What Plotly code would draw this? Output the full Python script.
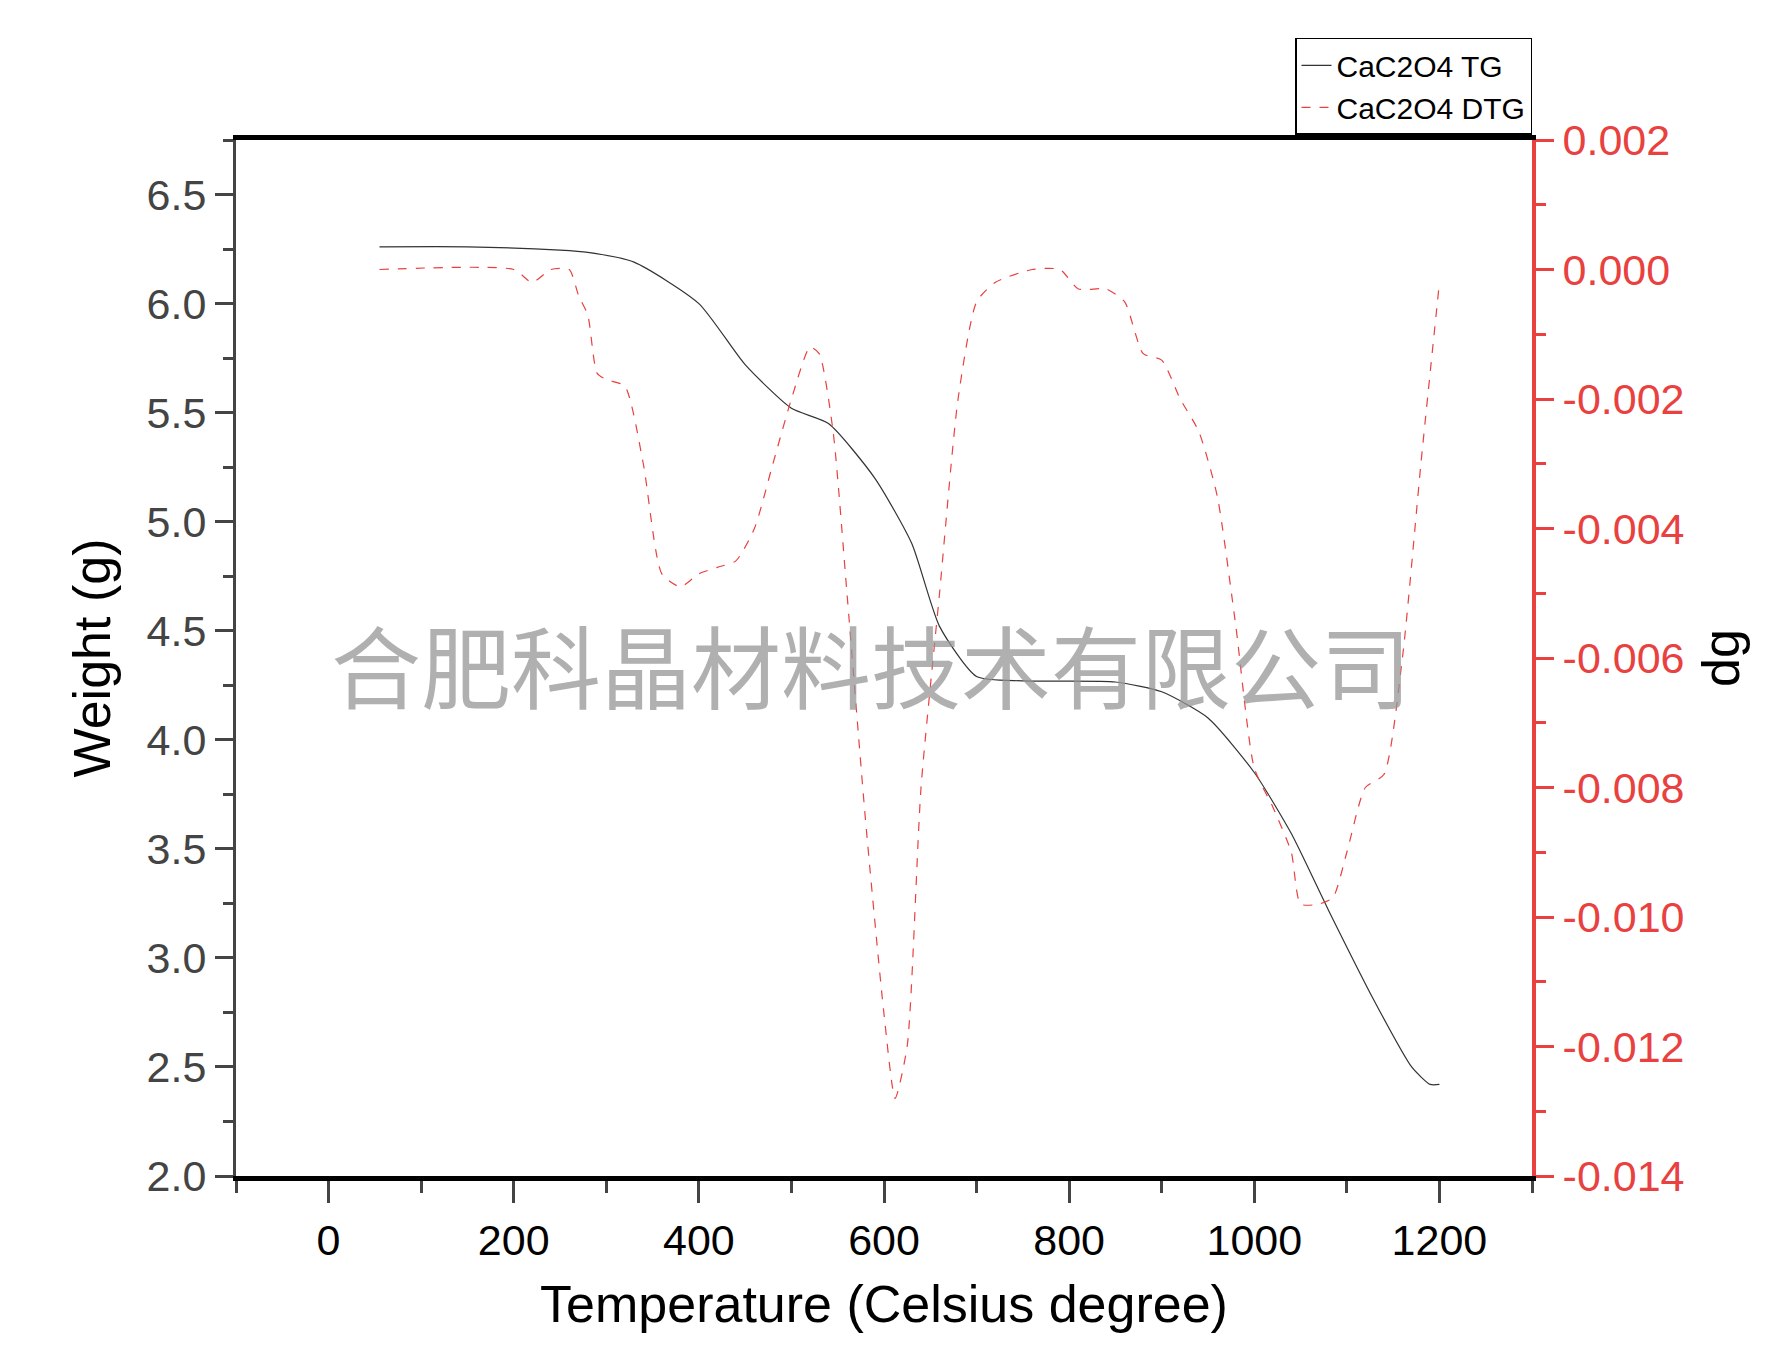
import plotly.graph_objects as go

tg_temp = [55, 150, 250, 280, 330, 400, 450, 500, 540, 590, 630, 660, 700, 750, 850, 900, 950,
           1000, 1040, 1080, 1130, 1170, 1190, 1200]
tg_weight = [6.26, 6.26, 6.245, 6.235, 6.19, 6.0, 5.72, 5.52, 5.45, 5.2, 4.9, 4.52, 4.29, 4.27,
             4.265, 4.22, 4.1, 3.85, 3.57, 3.22, 2.8, 2.5, 2.42, 2.42]

dtg_temp = [55, 200, 220, 240, 260, 270, 280, 290, 300, 320, 340, 360, 380, 400, 420, 440, 460,
            480, 500, 520, 530, 545, 560, 580, 600, 612, 625, 640, 660, 680, 700, 720, 760, 790,
            810, 840, 860, 880, 900, 920, 940, 960, 980, 1000, 1020, 1040, 1050, 1070, 1085,
            1100, 1120, 1140, 1160, 1180, 1200]
dtg_value = [0, 0, -0.0002, 0, 0, -0.0004, -0.0007, -0.0016, -0.0017, -0.0018, -0.003, -0.0047,
             -0.0049, -0.0047, -0.0046, -0.0045, -0.004, -0.003, -0.002, -0.0012, -0.0013,
             -0.0025, -0.005, -0.0085, -0.0115, -0.0128, -0.012, -0.008, -0.005, -0.002, -0.0005,
             -0.0002, 0, 0, -0.0003, -0.0003, -0.0005, -0.0013, -0.0014, -0.002, -0.0025,
             -0.0035, -0.0055, -0.0077, -0.0083, -0.009, -0.0098, -0.0098, -0.0097, -0.009,
             -0.008, -0.0078, -0.006, -0.003, -0.0002]

dg_ticks = [0.002, 0.0, -0.002, -0.004, -0.006, -0.008, -0.010, -0.012, -0.014]
dg_labels = ["0.002", "0.000", "-0.002", "-0.004", "-0.006", "-0.008", "-0.010", "-0.012", "-0.014"]

red = "#e8413f"
font = "Liberation Sans, Arial, sans-serif"

fig = go.Figure()
fig.add_trace(go.Scatter(x=tg_temp, y=tg_weight, mode="lines", name="CaC2O4 TG",
                         line=dict(color="#333333", width=1.2, shape="spline", smoothing=0.6)))
fig.add_trace(go.Scatter(x=dtg_temp, y=dtg_value, mode="lines", name="CaC2O4 DTG", yaxis="y2",
                         line=dict(color=red, width=1.2, dash="dash", shape="spline",
                                   smoothing=0.6)))

fig.update_layout(
    width=1782, height=1362, plot_bgcolor="white", paper_bgcolor="white",
    font=dict(family=font, size=43, color="black"),
    margin=dict(l=228, r=258, t=132, b=194),
    xaxis=dict(range=[-100, 1300], dtick=200, ticks="outside", ticklen=22, tickwidth=3,
               linecolor="black", linewidth=5, showgrid=False, zeroline=False, mirror=True,
               minor=dict(dtick=100, ticks="outside", ticklen=12, tickwidth=3),
               title=dict(text="Temperature (Celsius degree)", font=dict(size=52), standoff=25)),
    yaxis=dict(range=[2, 6.75], dtick=0.5, tickformat=".1f", ticks="outside", ticklen=18,
               tickwidth=3, linecolor="#444444", linewidth=3, tickcolor="#444444",
               tickfont=dict(color="#444444"), showgrid=False, zeroline=False,
               minor=dict(dtick=0.25, ticks="outside", ticklen=10, tickwidth=3),
               title=dict(text="Weight (g)", font=dict(size=52), standoff=20)),
    yaxis2=dict(overlaying="y", side="right", range=[-0.014, 0.002], tickvals=dg_ticks,
                ticktext=dg_labels, ticks="outside", ticklen=18, tickwidth=3, linecolor=red,
                linewidth=4, tickcolor=red, tickfont=dict(color=red), showgrid=False,
                zeroline=False,
                minor=dict(dtick=0.001, ticks="outside", ticklen=10, tickwidth=3),
                title=dict(text="dg", font=dict(size=52), standoff=20)),
    legend=dict(x=1.0, y=1.005, xanchor="right", yanchor="bottom", bordercolor="black",
                borderwidth=1.5, font=dict(size=30), bgcolor="white"),
    showlegend=True,
    annotations=[dict(text="合肥科晶材料技术有限公司", x=0.49, y=0.495, xref="paper",
                      yref="paper", showarrow=False,
                      font=dict(family="Noto Sans CJK SC", size=90, color="rgba(150,150,150,0.75)"))],
)

fig.write_html("out.html")
